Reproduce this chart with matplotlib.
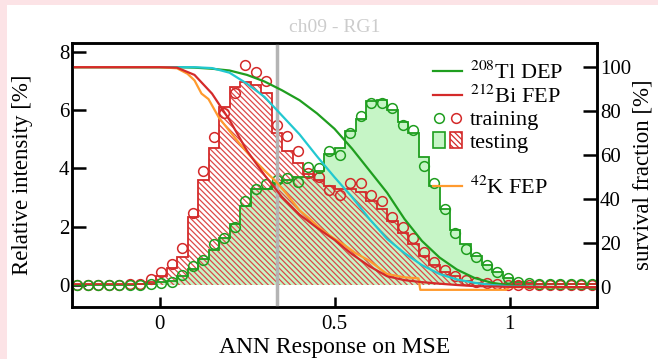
import numpy as np
import matplotlib
matplotlib.use("Agg")
import matplotlib.pyplot as plt
from matplotlib.lines import Line2D
from matplotlib.patches import Patch, Rectangle
from matplotlib.legend_handler import HandlerTuple

plt.rcParams['font.family'] = ['Liberation Serif', 'DejaVu Serif']
plt.rcParams['mathtext.fontset'] = 'stix'
plt.rcParams['hatch.linewidth'] = 0.9

# 50 bins, width 0.03, from -0.25 to 1.25
edges = np.linspace(-0.25, 1.25, 51)
centers = 0.5 * (edges[:-1] + edges[1:])

# 212Bi FEP (red)
bi_train = [0.0, 0.0, 0.0, 0.0, 0.02, 0.03, 0.05, 0.2,
            0.46, 0.72, 1.26, 2.46, 3.9, 5.07, 5.9, 6.6, 7.56, 7.3, 7.0,
            5.5, 5.1, 4.6, 3.85, 3.7, 3.26, 3.09, 3.5, 3.5, 3.1, 2.9, 2.35,
            2.0, 1.6, 1.15, 0.8, 0.52, 0.32, 0.18, 0.1, 0.06, 0.04,
            0.02, 0.02, 0.02, 0.02, 0.02, 0.02, 0.02, 0.02, 0.02]
bi_test = [0.03, 0.03, 0.03, 0.03, 0.03, 0.03, 0.03, 0.12,
           0.3, 0.6, 0.95, 2.35, 3.6, 4.7, 6.1, 6.8, 6.95, 6.85, 6.6,
           5.2, 4.6, 4.2, 3.8, 3.6, 3.4, 3.3, 3.3, 3.2, 2.9, 2.6, 2.2,
           1.8, 1.4, 1.0, 0.7, 0.45, 0.3, 0.15, 0.08, 0.05, 0.03,
           0.03, 0.03, 0.03, 0.03, 0.03, 0.03, 0.03, 0.03, 0.03]

# 208Tl DEP (green)
tl_train = [0.0, 0.0, 0.0, 0.0, 0.0, 0.0, 0.02, 0.05,
            0.08, 0.12, 0.35, 0.65, 0.85, 1.4, 1.6, 1.98, 2.9, 3.3, 3.45,
            3.6, 3.67, 3.55, 4.05, 4.0, 4.6, 4.45, 5.2, 5.8, 6.24, 6.24, 6.07,
            5.5, 5.33, 4.07, 3.5, 2.6, 1.79, 1.25, 0.95, 0.7, 0.46,
            0.25, 0.12, 0.08, 0.04, 0.04, 0.04, 0.04, 0.04, 0.04]
tl_test = [0.02, 0.02, 0.02, 0.02, 0.02, 0.02, 0.03, 0.05,
           0.1, 0.15, 0.3, 0.55, 0.9, 1.2, 1.6, 2.1, 2.7, 3.3, 3.3,
           3.5, 3.6, 3.7, 3.7, 3.9, 4.5, 4.7, 5.3, 5.7, 6.3, 6.35, 6.0,
           5.6, 5.2, 4.4, 3.4, 2.6, 1.9, 1.4, 1.0, 0.7, 0.45,
           0.25, 0.12, 0.06, 0.03, 0.03, 0.03, 0.03, 0.03, 0.03]

# survival fractions [%]
tl_x = [-0.25, 0.0, 0.05, 0.1, 0.15, 0.2, 0.25, 0.3, 0.35, 0.4, 0.45, 0.5, 0.55,
        0.6, 0.65, 0.7, 0.75, 0.8, 0.85, 0.9, 0.95, 1.0, 1.05, 1.1, 1.25]
tl_surv = [100, 100, 100, 99.8, 99.3, 98.5, 96.5, 93.5, 89.5, 85, 79, 72, 63,
           53, 43, 31, 21, 13.5, 8, 4.2, 2, 0.8, 0.3, 0.1, 0]

bi_x = [-0.25, 0.0, 0.05, 0.1, 0.15, 0.2, 0.25, 0.3, 0.35, 0.4, 0.45, 0.5, 0.55,
        0.6, 0.65, 0.7, 0.75, 0.8, 0.85, 0.9, 1.0, 1.25]
bi_surv = [100, 100, 99.8, 96.5, 88, 76, 62, 51, 41, 33, 27, 21.5, 15,
           9.5, 5, 3.2, 2.3, 1.6, 1.0, 0.5, 0.15, 0]

k_x = [-0.25, 0.0, 0.05, 0.08, 0.1, 0.12, 0.14, 0.17, 0.2, 0.22, 0.26, 0.3, 0.33,
       0.36, 0.4, 0.43, 0.46, 0.5, 0.53, 0.56, 0.6, 0.65, 0.7, 0.74, 0.745,
       0.99, 1.0, 1.25]
k_surv = [100, 100, 99.5, 97, 94, 88, 85.5, 77, 71, 67, 59.5, 53, 48.5,
          43, 35, 31, 26.5, 22, 19, 15.5, 12, 6, 4.5, 4, -1.2,
          -1.2, 0, 0]

cy_x = [-0.25, 0.1, 0.15, 0.2, 0.25, 0.3, 0.35, 0.4, 0.45, 0.5, 0.55, 0.6, 0.65,
        0.7, 0.75, 0.8, 0.85, 0.9, 0.95, 1.0, 1.1, 1.25]
cy_surv = [100, 100, 99.6, 97.5, 92.5, 86.5, 78, 69.5, 59.5, 50, 41, 31, 22,
           15.5, 10, 6, 3.5, 2, 1, 0.4, 0.1, 0]

cut = 0.337

red = '#d42a2a'
green = '#1f9e1f'
lgreen = '#c6f5c6'
cyan = '#22c8d0'
orange = '#ff9a2e'
hatch = '\\' * 6

fig = plt.figure(figsize=(6.58, 3.59), dpi=100)
fig.patch.set_facecolor('#fce3e6')
fig.patches.append(Rectangle((7 / 658, 0), 1, 1 - 5 / 359, transform=fig.transFigure,
                             facecolor='white', edgecolor='none', zorder=-10))

ax = fig.add_axes([72 / 658, 52 / 359, 525 / 658, 264 / 359])
ax.set_xlim(-0.25, 1.25)
ax.set_ylim(-0.75, 8.3)

# testing histograms
ax.fill_between(edges, np.append(tl_test, tl_test[-1]), step='post',
                facecolor=lgreen, edgecolor='none', zorder=1)
ax.fill_between(edges, np.append(bi_test, bi_test[-1]), step='post',
                facecolor='none', edgecolor='#dd4848', hatch=hatch, linewidth=0, zorder=2)
ax.stairs(tl_test, edges, color=green, lw=1.3, baseline=None, zorder=3)
ax.stairs(bi_test, edges, color=red, lw=1.3, baseline=None, zorder=3)

# training points
ax.plot(centers, bi_train, 'o', mfc='none', mec=red, ms=7, mew=1.1, zorder=4)
ax.plot(centers, tl_train, 'o', mfc='none', mec=green, ms=7, mew=1.1, zorder=4)

ax.axvline(cut, color='#b4b4b4', lw=2.5, zorder=5)

ax.set_xticks([0, 0.5, 1])
ax.set_xticklabels(['0', '0.5', '1'])
ax.set_yticks([0, 2, 4, 6, 8])
ax.tick_params(axis='both', direction='in', length=10, width=1.8, labelsize=15, pad=2)
ax.tick_params(axis='x', length=7, pad=6)
ax.tick_params(top=False, right=False)
for s in ax.spines.values():
    s.set_linewidth(1.8)
ax.set_xlabel('ANN Response on MSE', fontsize=17)
ax.xaxis.set_label_coords(0.5, -0.112)
ax.set_ylabel('Relative intensity [%]', fontsize=16.5)
ax.yaxis.set_label_coords(-0.074, 0.5)

ax2 = ax.twinx()
ax2.set_ylim(-9, 111)
ax2.plot(tl_x, tl_surv, color=green, lw=1.6)
ax2.plot(cy_x, cy_surv, color=cyan, lw=1.6)
ax2.plot(k_x, k_surv, color=orange, lw=1.6)
ax2.plot(bi_x, bi_surv, color=red, lw=1.6)
ax2.set_yticks([0, 20, 40, 60, 80, 100])
ax2.tick_params(axis='y', direction='in', length=10, width=1.8, labelsize=15, pad=2)
ax2.set_ylabel('survival fraction [%]', fontsize=16.5)
ax2.yaxis.set_label_coords(1.068, 0.5)
for s in ax2.spines.values():
    s.set_linewidth(1.8)

h_tl = Line2D([], [], color=green, lw=1.6)
h_bi = Line2D([], [], color=red, lw=1.6)
h_tr = (Line2D([], [], ls='none', marker='o', mfc='none', mec=green, ms=7, mew=1.1),
        Line2D([], [], ls='none', marker='o', mfc='none', mec=red, ms=7, mew=1.1))
h_te = (Patch(facecolor=lgreen, edgecolor=green, lw=1.2),
        Patch(facecolor='none', edgecolor=red, hatch=hatch, lw=1.2))
h_blank = Line2D([], [], color='none')
h_k = Line2D([], [], color=orange, lw=1.6)
leg = ax2.legend([h_tl, h_bi, h_tr, h_te, h_blank, h_k],
                 ['$^{208}$Tl DEP', '$^{212}$Bi FEP', 'training', 'testing', '', '$^{42}$K FEP'],
                 handler_map={tuple: HandlerTuple(ndivide=None, pad=0.2)},
                 loc='upper left', bbox_to_anchor=((433 - 72) / 525, 0.93),
                 frameon=False, fontsize=16, handlelength=1.3, handletextpad=0.35,
                 labelspacing=0.08, borderaxespad=0, borderpad=0)

fig.text(335 / 658, 1 - 27 / 359, 'ch09 - RG1', color='#cccccc', fontsize=14,
         ha='center', va='center')

fig.savefig('out.png', dpi=100, facecolor=fig.get_facecolor())
